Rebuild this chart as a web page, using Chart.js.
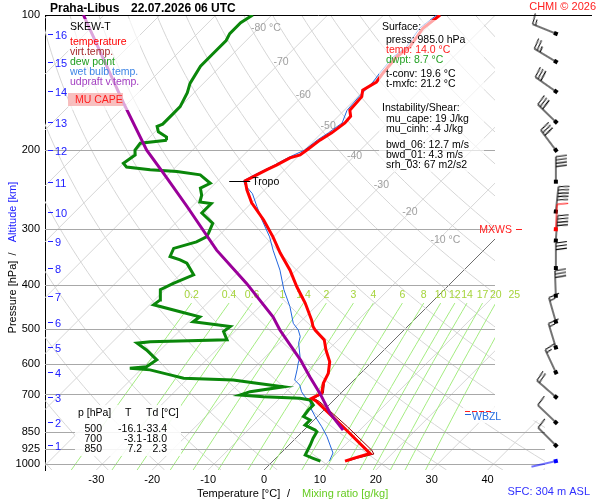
<!DOCTYPE html>
<html><head><meta charset="utf-8">
<script src="https://cdn.jsdelivr.net/npm/chart.js@4.4.1/dist/chart.umd.min.js"></script>
<style>html,body{margin:0;padding:0;background:#fff;}canvas{display:block;}</style>
</head><body>
<canvas id="c" width="600" height="500"></canvas>
<script>
// ---------------- data ----------------
const pressureTicks = [100, 200, 300, 400, 500, 600, 700, 850, 925, 1000];
const temperatureTicks = [-30, -20, -10, 0, 10, 20, 30, 40];
const altitudeKm = [1, 2, 3, 4, 5, 6, 7, 8, 9, 10, 11, 12, 13, 14, 15, 16];
const altitudeP = [909, 808, 709, 625, 550, 482, 422, 366, 318, 274, 235, 200, 173, 148, 127, 110];

// temperature
const tempP = [985, 971, 947, 931, 826, 726, 714, 696, 661, 628, 592, 557, 529, 503, 494, 478, 438, 403, 370, 339, 312, 286, 262, 245, 234, 227, 221, 216, 208, 205, 200, 190, 183, 174, 168, 163, 152, 147, 141, 135, 124, 118, 107, 100];
const tempT = [12.9, 13.9, 16.0, 14.8, 6.4, -2.8, -4.3, -3.4, -4.9, -5.8, -7.6, -10.4, -12.5, -15.9, -16.9, -18.3, -22.5, -26.9, -31.1, -35.9, -40.1, -44.8, -50.0, -53.2, -55.1, -54.1, -53.2, -52.3, -51.2, -49.9, -49.6, -49.0, -48.2, -47.6, -47.8, -49.0, -49.3, -50.3, -49.3, -49.7, -50.2, -49.6, -50.6, -49.9];
// virtual temperature (lower part)
const virtP = [985, 970, 950, 931, 826, 726, 714, 696, 661];
const virtT = [13.4, 14.6, 16.8, 15.7, 7.2, -2.3, -3.9, -3.1, -4.7];
// dew point
const dewP = [985, 971, 955, 907, 876, 847, 840, 819, 798, 784, 758, 739, 720, 714, 708, 702, 690, 673, 661, 650, 644, 633, 617, 612, 607, 586, 557, 538, 534, 529, 507, 494, 482, 470, 458, 442, 431, 409, 396, 379, 357, 351, 345, 331, 320, 312, 306, 291, 276, 263, 261, 252, 243, 237, 227, 223, 221, 218, 214, 205, 200, 193, 190, 187, 182, 177, 175, 166, 160, 149, 142, 130, 122, 114, 110, 104, 100];
const dewT = [8.5, 6.7, 4.7, 3.8, 3.1, 2.6, 2.0, -0.7, -0.7, -2.5, -2.8, -2.8, -4.3, -6.4, -13.2, -17.7, -16.5, -11.4, -16.8, -21.6, -30.8, -33.8, -38.3, -42.2, -39.5, -38.9, -42.5, -45.4, -43.3, -29.9, -32.0, -31.7, -39.2, -38.9, -43.3, -49.3, -49.0, -50.8, -49.6, -47.5, -50.8, -52.6, -55.0, -55.8, -52.9, -52.0, -52.3, -53.3, -57.1, -57.1, -59.4, -60.3, -61.8, -60.9, -64.2, -69.0, -74.1, -78.8, -80.0, -79.4, -80.3, -80.6, -76.4, -77.0, -79.4, -80.6, -80.0, -80.0, -80.0, -81.2, -82.4, -83.6, -83.6, -83.6, -84.2, -84.2, -83.4];
// wet bulb
const wetP = [985, 945, 869, 826, 784, 758, 726, 708, 690, 667, 650, 617, 596, 577, 538, 520, 503, 486, 446, 409, 370, 334, 312, 286, 267, 250, 239, 234, 227, 216, 208, 200, 190, 183, 174, 163, 152, 141, 135, 124, 118, 107, 100];
const wetT = [10.1, 9.3, 5.3, 2.6, -0.4, -2.2, -4.0, -5.8, -7.3, -8.8, -10.6, -12.0, -13.0, -13.8, -16.5, -17.4, -18.9, -21.0, -24.6, -28.7, -32.9, -37.7, -40.7, -45.1, -48.4, -51.5, -54.4, -55.4, -54.5, -52.7, -51.6, -50.0, -49.5, -48.8, -48.1, -49.5, -49.8, -49.9, -50.3, -50.8, -50.2, -51.2, -50.5];
// updraft (MU parcel) virtual temperature
const parcelP = [840, 771, 696, 639, 586, 503, 470, 396, 334, 267, 225, 200, 157, 100];
const parcelT = [7.0, 1.7, -3.7, -8.5, -13.2, -22.2, -25.8, -36.5, -47.8, -60.9, -71.1, -78.2, -90.8, -113.7];

// winds (one barb per km), direction deg, speed (barb units: 10 = full)
const windP = [909, 808, 709, 625, 550, 482, 422, 366, 318, 274, 235, 200, 173, 148, 127, 110];
const windDir = [315, 314, 311, 335, 343, 344, 358, 0, 4, 6, 0, 323, 314, 305, 301, 292];
const windSpd = [10, 10, 20, 15, 15, 15, 30, 30, 40, 50, 40, 30, 30, 30, 25, 15];
const mxwsP = 300, mxwsDir = 3, mxwsSpd = 10;
const sfcP = 985, sfcDir = 257, sfcSpd = 0;

const mixRatios = [0.2, 0.4, 0.6, 1, 1.4, 2, 3, 4, 6, 8, 10, 12, 14, 17, 20, 25];
const mixLabels = ['0.2', '0.4', '0.6', '1', '1.4', '2', '3', '4', '6', '8', '10', '12', '14', '17', '20', '25'];
const isoLabelT = [-80, -70, -60, -50, -40, -30, -20, -10];
const isoLabelP = [107, 127, 151, 177, 206, 239, 275, 317];
const tropoP = 234, tropoT = -55.1;
const fzlP = 762, wbzlP = 782;

const tableRows = [['500', '-16.1', '-33.4'], ['700', '-3.1', '-18.0'], ['850', '7.2', '2.3']];

// ---------------- geometry ----------------
const P_BOTTOM = 1031, P_TOP = 100;
const PX_PER_DEG = 5.59;
const SKEW = 449.04 / PX_PER_DEG;
const X_MIN = -39.18, X_MAX = X_MIN + 547 / PX_PER_DEG;
const GRID_RIGHT_UP = 41.32, GRID_RIGHT_LOW = 50.27, GRID_CUT_P = 800;
const BARB_X = 52.2;
const skew = (T, p) => T + SKEW * Math.log10(P_BOTTOM / p);
const profile = (P, T) => P.map((p, i) => ({x: skew(T[i], p), y: p}));
const dewFromMix = (w, p) => { const e = w * p / (622 + w); const l = Math.log(e / 6.112); return 243.5 * l / (17.67 - l); };

const FONT = "'Liberation Sans', Arial, sans-serif";
Chart.defaults.font.family = FONT;

function barbCanvas(speed, color) {
  const S = 72, c = 36, L = 25;
  const cv = document.createElement('canvas'); cv.width = S; cv.height = S;
  const g = cv.getContext('2d');
  g.strokeStyle = color; g.fillStyle = color; g.lineWidth = 1.1;
  g.fillRect(c - 2, c - 2, 4, 4);
  g.beginPath(); g.moveTo(c, c); g.lineTo(c, c - L); g.stroke();
  const n = Math.floor(speed / 10), half = (speed % 10) >= 5;
  let yy = c - L;
  for (let i = 0; i < n; i++) { g.beginPath(); g.moveTo(c, yy); g.lineTo(c + 11, yy - 1.5); g.stroke(); yy += 3.3; }
  if (half) { if (n === 0) yy += 3.3; g.beginPath(); g.moveTo(c, yy); g.lineTo(c + 6, yy - 1); g.stroke(); }
  return cv;
}

const barbPoints = windP.map(p => ({x: BARB_X, y: p}));
barbPoints.push({x: BARB_X, y: mxwsP}, {x: BARB_X, y: sfcP});
const barbStyles = windSpd.map(s => barbCanvas(s, '#000'));
barbStyles.push(barbCanvas(mxwsSpd, '#ff0000'), barbCanvas(sfcSpd, '#0000ff'));
const barbRot = windDir.slice(); barbRot.push(mxwsDir, sfcDir);

// ---------------- plugins ----------------
const bgPlugin = {
  id: 'skewbg',
  beforeDatasetsDraw(chart) {
    const {ctx, chartArea: a, scales: {x, y}} = chart;
    const px = (T, p) => x.getPixelForValue(skew(T, p));
    const py = p => y.getPixelForValue(p);
    const xr1 = x.getPixelForValue(GRID_RIGHT_UP), xr2 = x.getPixelForValue(GRID_RIGHT_LOW);
    const ycut = py(GRID_CUT_P);
    ctx.save();
    ctx.beginPath();
    ctx.moveTo(a.left, a.top); ctx.lineTo(xr1, a.top); ctx.lineTo(xr1, ycut); ctx.lineTo(xr2, ycut);
    ctx.lineTo(xr2, a.bottom); ctx.lineTo(a.left, a.bottom); ctx.closePath(); ctx.clip();
    ctx.lineWidth = 1;
    // isotherms
    for (let T = -130; T <= 50; T += 10) {
      ctx.strokeStyle = T === 0 ? '#6e6e6e' : '#d6d6d6';
      ctx.beginPath(); ctx.moveTo(px(T, P_BOTTOM), py(P_BOTTOM)); ctx.lineTo(px(T, P_TOP), py(P_TOP)); ctx.stroke();
    }
    // dry adiabats
    ctx.strokeStyle = '#d6d6d6';
    for (let t0 = -40; t0 <= 190; t0 += 10) {
      const th = t0 + 273.15;
      ctx.beginPath();
      for (let i = 0; i <= 60; i++) {
        const p = P_BOTTOM * Math.pow(P_TOP / P_BOTTOM, i / 60);
        const T = th * Math.pow(p / 1000, 0.2857) - 273.15;
        const X = px(T, p), Y = py(p);
        if (i === 0) ctx.moveTo(X, Y); else ctx.lineTo(X, Y);
      }
      ctx.stroke();
    }
    // mixing ratio lines
    ctx.strokeStyle = '#a4ec80';
    mixRatios.forEach(w => {
      ctx.beginPath();
      for (let i = 0; i <= 20; i++) {
        const p = P_BOTTOM * Math.pow(438 / P_BOTTOM, i / 20);
        const X = px(dewFromMix(w, p), p), Y = py(p);
        if (i === 0) ctx.moveTo(X, Y); else ctx.lineTo(X, Y);
      }
      ctx.stroke();
    });
    // pressure lines
    ctx.strokeStyle = '#a8a8a8';
    pressureTicks.forEach(p => {
      if (p === P_TOP) return;
      const Y = Math.round(py(p)) + 0.5;
      ctx.beginPath(); ctx.moveTo(a.left, Y); ctx.lineTo(p >= GRID_CUT_P ? xr2 : xr1, Y); ctx.stroke();
    });
    ctx.restore();
    // top line
    ctx.save();
    ctx.strokeStyle = '#000'; ctx.lineWidth = 1;
    const yt = Math.round(py(P_TOP)) + 0.5;
    ctx.beginPath(); ctx.moveTo(a.left, yt); ctx.lineTo(a.right, yt); ctx.stroke();
    // isotherm labels
    ctx.font = '10.5px ' + FONT; ctx.fillStyle = '#a0a0a0'; ctx.textBaseline = 'middle'; ctx.textAlign = 'left';
    isoLabelT.forEach((T, i) => {
      const p = isoLabelP[i];
      const num = String(T);
      const w = ctx.measureText(num).width;
      const txt = (T === -80 || T === -10) ? num + ' \u00B0C' : num;
      ctx.fillText(txt, px(T, p) - w / 2, py(p));
    });
    // mixing ratio labels
    ctx.fillStyle = '#a6d43c'; ctx.textAlign = 'center';
    mixRatios.forEach((w, i) => {
      ctx.fillText(mixLabels[i], px(dewFromMix(w, 438), 438), py(420));
    });
    ctx.restore();
  }
};

const overlayPlugin = {
  id: 'overlay',
  afterDatasetsDraw(chart) {
    const {ctx, chartArea: a, scales: {x, y}} = chart;
    const px = (T, p) => x.getPixelForValue(skew(T, p));
    const py = p => y.getPixelForValue(p);
    ctx.save();
    ctx.textBaseline = 'middle';
    const f = '10.5px ' + FONT;
    // tropopause
    const ty = Math.round(py(tropoP)) + 0.5, tx = px(tropoT, tropoP);
    ctx.strokeStyle = '#000'; ctx.lineWidth = 1;
    ctx.beginPath(); ctx.moveTo(tx - 16, ty); ctx.lineTo(tx + 5, ty); ctx.stroke();
    ctx.font = f; ctx.fillStyle = '#000'; ctx.textAlign = 'left';
    ctx.fillText('Tropo', tx + 7, ty + 1);
    // MXWS
    const mx = x.getPixelForValue(GRID_RIGHT_UP);
    const my = py(mxwsP);
    ctx.fillStyle = '#ff2020'; ctx.textAlign = 'right';
    ctx.fillText('MXWS', mx + 17, my + 1);
    ctx.strokeStyle = '#ff2020';
    ctx.beginPath(); ctx.moveTo(mx + 21, Math.round(my) + 0.5); ctx.lineTo(mx + 27, Math.round(my) + 0.5); ctx.stroke();
    // WBZL / FZL
    const wy = py(wbzlP), fy = py(fzlP);
    ctx.fillStyle = 'rgba(255,255,255,0.85)';
    ctx.fillRect(mx - 32, fy - 4, 44, 16);
    ctx.strokeStyle = '#ff2020'; ctx.setLineDash([5, 2]);
    ctx.beginPath(); ctx.moveTo(mx - 30, Math.round(fy) + 0.5); ctx.lineTo(mx - 3, Math.round(fy) + 0.5); ctx.stroke();
    ctx.setLineDash([]);
    ctx.strokeStyle = '#2266dd';
    ctx.beginPath(); ctx.moveTo(mx - 30, Math.round(wy) - 1.5); ctx.lineTo(mx - 24, Math.round(wy) - 1.5); ctx.stroke();
    ctx.fillStyle = '#2a6ee0'; ctx.textAlign = 'left';
    ctx.fillText('WBZL', mx - 23, wy + 1);

    // legend box
    ctx.fillStyle = 'rgba(255,255,255,0.65)';
    ctx.fillRect(68, 19, 72, 91);
    ctx.textAlign = 'left';
    const leg = [['SKEW-T', '#000', 27], ['temperature', '#ff0000', 42], ['virt.temp.', '#a52a2a', 52],
      ['dew point', '#1e9e1e', 62], ['wet bulb temp.', '#3d85e6', 72], ['udpraft v.temp.', '#a23cc0', 82]];
    leg.forEach(l => { ctx.fillStyle = l[1]; ctx.fillText(l[0], 70, l[2]); });
    ctx.fillStyle = 'rgba(245,170,170,0.75)';
    ctx.fillRect(68, 93, 55, 13);
    ctx.fillStyle = '#ff2020';
    ctx.fillText('MU CAPE', 75, 100);

    // info box
    ctx.fillStyle = 'rgba(255,255,255,0.65)';
    ctx.fillRect(379, 20, 105, 152);
    const info = [['Surface:', '#000', 382, 27], ['press: 985.0 hPa', '#000', 386, 40], ['temp: 14.0 \u00B0C', '#ff2020', 386, 50],
      ['dwpt: 8.7 \u00B0C', '#22a022', 386, 60], ['t-conv: 19.6 \u00B0C', '#000', 386, 74], ['t-mxfc: 21.2 \u00B0C', '#000', 386, 84],
      ['Instability/Shear:', '#000', 382, 108], ['mu_cape: 19 J/kg', '#000', 386, 119], ['mu_cinh: -4 J/kg', '#000', 386, 129],
      ['bwd_06: 12.7 m/s', '#000', 386, 145], ['bwd_01: 4.3 m/s', '#000', 386, 155], ['srh_03: 67 m2/s2', '#000', 386, 165]];
    info.forEach(l => { ctx.fillStyle = l[1]; ctx.fillText(l[0], l[2], l[3]); });

    // table box
    ctx.fillStyle = 'rgba(255,255,255,0.88)';
    ctx.fillRect(75, 405, 106, 51);
    ctx.fillStyle = '#000';
    ctx.fillText('p [hPa]', 78, 413); ctx.fillText('T', 125, 413); ctx.fillText('Td [\u00B0C]', 146, 413);
    ctx.textAlign = 'right';
    tableRows.forEach((r, i) => {
      const yy = 429 + i * 10;
      ctx.fillText(r[0], 102, yy); ctx.fillText(r[1], 142, yy); ctx.fillText(r[2], 167, yy);
    });

    // altitude ticks
    ctx.strokeStyle = '#2020ff'; ctx.fillStyle = '#2020ff'; ctx.textAlign = 'left';
    ctx.font = '11px ' + FONT;
    altitudeKm.forEach((k, i) => {
      const yy = Math.round(py(altitudeP[i])) + 0.5;
      ctx.beginPath(); ctx.moveTo(a.left + 3, yy); ctx.lineTo(a.left + 8, yy); ctx.stroke();
      ctx.fillText(String(k), a.left + 10, yy + 1);
    });
    ctx.restore();
  },
  afterDraw(chart) {
    const {ctx} = chart;
    ctx.save();
    ctx.textBaseline = 'alphabetic';
    ctx.font = 'bold 12px ' + FONT; ctx.fillStyle = '#000'; ctx.textAlign = 'left';
    ctx.fillText('Praha-Libus', 50, 11.5);
    ctx.fillText('22.07.2026 06 UTC', 131, 11.5);
    ctx.font = '11px ' + FONT;
    ctx.fillStyle = '#ff2020'; ctx.textAlign = 'right';
    ctx.fillText('CHMI \u00A9 2026', 596, 10);
    ctx.fillStyle = '#3030ff';
    ctx.fillText('SFC: 304 m ASL', 590, 495);
    ctx.textAlign = 'left';
    ctx.fillStyle = '#000';
    ctx.fillText('Temperature [\u00B0C]', 197, 497);
    ctx.fillText('/', 287, 497);
    ctx.fillStyle = '#66cc22';
    ctx.fillText('Mixing ratio [g/kg]', 302, 497);
    // y title
    ctx.save();
    ctx.translate(16, 0);
    ctx.rotate(-Math.PI / 2);
    ctx.textAlign = 'center';
    ctx.fillStyle = '#000';
    ctx.fillText('Pressure [hPa]', -297, 0);
    ctx.fillText('/', -254, 0);
    ctx.fillStyle = '#2020ff';
    ctx.fillText('Altitude [km]', -212, 0);
    ctx.restore();
    ctx.restore();
  }
};

// ---------------- chart ----------------
const lineDs = (label, P, T, color, width, order) => ({
  label, data: profile(P, T), borderColor: color, backgroundColor: color, borderWidth: width,
  pointRadius: 0, showLine: true, tension: 0, order
});

new Chart(document.getElementById('c'), {
  type: 'scatter',
  data: {
    datasets: [
      {label: 'wind', data: barbPoints, pointStyle: barbStyles, pointRotation: barbRot, pointRadius: 3,
        showLine: false, clip: false, order: -1},
      lineDs('updraft v.temp.', parcelP, parcelT, '#9a009a', 3, 1),
      lineDs('temperature', tempP, tempT, '#ff0000', 3, 2),
      lineDs('virt.temp.', virtP, virtT, '#8b0000', 1, 3),
      lineDs('dew point', dewP, dewT, '#0a870a', 3, 4),
      lineDs('wet bulb temp.', wetP, wetT, '#2266dd', 1, 5)
    ]
  },
  options: {
    responsive: false, animation: false,
    layout: {padding: {left: 0, top: 15, right: 8, bottom: 0}},
    plugins: {legend: {display: false}, tooltip: {enabled: false}, title: {display: false}},
    scales: {
      x: {
        type: 'linear', min: X_MIN, max: X_MAX, position: 'bottom',
        grid: {display: false, drawTicks: false}, border: {display: false},
        ticks: {color: '#000', font: {size: 11}, padding: 3, autoSkip: false, maxRotation: 0, callback: v => String(v)},
        afterBuildTicks: s => { s.ticks = temperatureTicks.map(v => ({value: v})); },
        afterFit: s => { s.height = 30; }
      },
      y: {
        type: 'logarithmic', reverse: true, min: P_TOP, max: P_BOTTOM, position: 'left',
        grid: {display: false, drawTicks: false}, border: {display: true, color: '#000', width: 1},
        ticks: {color: '#000', font: {size: 11}, padding: 5, autoSkip: false, callback: v => String(v)},
        afterBuildTicks: s => { s.ticks = pressureTicks.map(v => ({value: v})); },
        afterFit: s => { s.width = 45; }
      }
    }
  },
  plugins: [bgPlugin, overlayPlugin]
});
</script>
</body></html>
